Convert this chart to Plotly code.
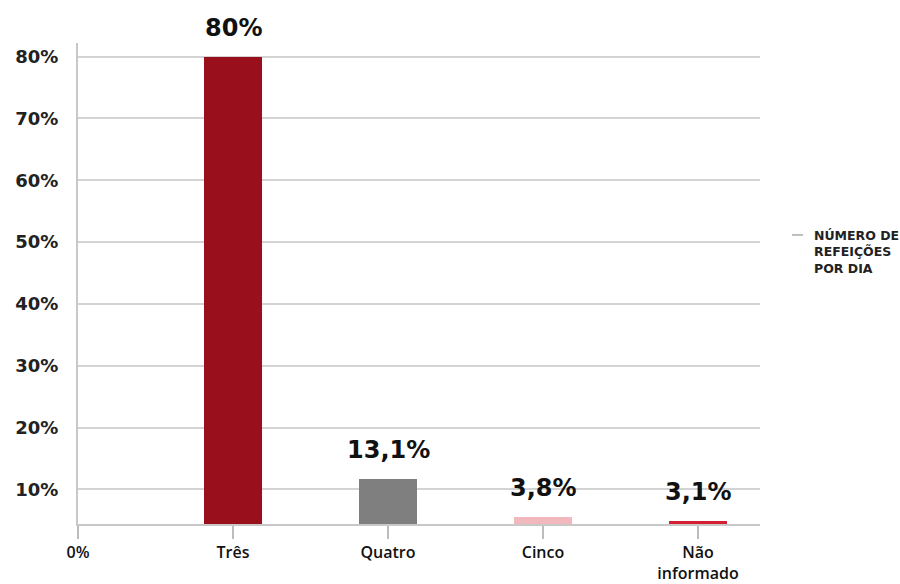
import plotly.graph_objects as go

# ---- data ----
categories = ["0%", "Três", "Quatro", "Cinco", "Não<br>informado"]
bar_categories = ["Três", "Quatro", "Cinco", "Não informado"]
bar_heights = [80, 11.7, 5.5, 4.9]          # heights as drawn in the picture
bar_labels = ["80%", "13,1%", "3,8%", "3,1%"]  # printed labels
bar_colors = ["#990f1b", "#7f7f7f", "#f1b9be", "#d42030"]
y_tick_vals = [10, 20, 30, 40, 50, 60, 70, 80]
y_tick_text = ["10%", "20%", "30%", "40%", "50%", "60%", "70%", "80%"]
legend_name = "NÚMERO DE<br>REFEIÇÕES<br>POR DIA"

positions = list(range(1, len(bar_categories) + 1))

fig = go.Figure()
fig.add_trace(go.Bar(
    x=positions, y=bar_heights, width=0.37,
    marker=dict(color=bar_colors, line=dict(width=0)),
    showlegend=False, hoverinfo="skip",
))

for xp, yv, lab in zip(positions, bar_heights, bar_labels):
    fig.add_annotation(x=xp, y=yv, text=lab, showarrow=False,
                       xanchor="center", yanchor="bottom", yshift=13,
                       font=dict(family="DejaVu Sans", size=24, color="#111", weight="bold"))

# legend (manual)
fig.add_shape(type="line", xref="paper", yref="paper",
              x0=1.047, x1=1.063, y0=0.601, y1=0.601,
              line=dict(color="#bdbdbd", width=2))
fig.add_annotation(xref="paper", yref="paper", x=1.076, y=0.5655,
                   xanchor="left", yanchor="middle", align="left",
                   text=legend_name, showarrow=False,
                   font=dict(family="DejaVu Sans", size=12.5, color="#222", weight="bold"))

fig.update_layout(
    width=900, height=584,
    margin=dict(l=78, r=140, t=43, b=60, autoexpand=False),
    paper_bgcolor="white", plot_bgcolor="white",
    bargap=0,
    xaxis=dict(
        range=[0, 4.4], tickmode="array", tickvals=list(range(len(categories))),
        ticktext=categories, ticks="outside", ticklen=13, tickwidth=1.5,
        tickcolor="#bdbdbd", showline=True, linecolor="#c8c8c8", linewidth=2,
        showgrid=False, zeroline=False, automargin=False,
        tickfont=dict(family="Open Sans", size=16, color="#111", weight=600),
    ),
    yaxis=dict(
        range=[4.4, 82.2], tickmode="array", tickvals=y_tick_vals, ticktext=y_tick_text,
        showgrid=True, gridcolor="#d3d3d3", gridwidth=2,
        showline=True, linecolor="#c8c8c8", linewidth=2,
        zeroline=False, ticks="", ticklabelstandoff=14, automargin=False,
        tickfont=dict(family="DejaVu Sans", size=18, color="#222", weight="bold"),
    ),
)

fig.write_html("out.html")
